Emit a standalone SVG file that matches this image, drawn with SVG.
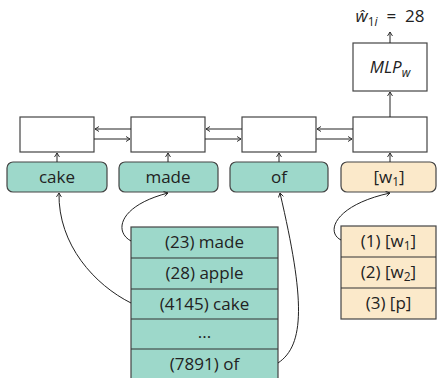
<svg xmlns="http://www.w3.org/2000/svg" width="437" height="378" viewBox="0 0 437 378">
<defs>
<marker id="ah" markerWidth="6" markerHeight="6" refX="5" refY="3" orient="auto" markerUnits="userSpaceOnUse">
<path d="M1,0.5 L5,3 L1,5.5" fill="none" stroke="#222" stroke-width="0.9"/>
</marker>
<style>
.box{fill:#fff;stroke:#444;stroke-width:1.2}
.tok{fill:#9dd8ca;stroke:#444;stroke-width:1.2}
.spc{fill:#fbe9ca;stroke:#444;stroke-width:1.2}
.row{stroke:#333;stroke-width:1.2}
.t{font-family:"Open Sans","Noto Sans",sans-serif;font-size:17px;fill:#222;text-anchor:middle}
.c{fill:none;stroke:#222;stroke-width:1;marker-end:url(#ah)}
</style>
</defs>
<g id="lstm1"><rect class="box" x="20" y="117" width="74" height="35"/></g>
<g id="lstm2"><rect class="box" x="131" y="117" width="74" height="35"/></g>
<g id="lstm3"><rect class="box" x="242" y="117" width="74" height="35"/></g>
<g id="lstm4"><rect class="box" x="353" y="117" width="74" height="35"/></g>
<g id="mlp"><rect class="box" x="353" y="43" width="74" height="48"/>
<text class="t" x="390" y="73" font-style="italic">MLP<tspan font-size="12" dy="4">w</tspan></text></g>
<g id="output"><text class="t" x="390" y="22"><tspan font-style="italic">ŵ</tspan><tspan font-size="12" dy="4">1<tspan font-style="italic">i</tspan></tspan><tspan dy="-4" xml:space="preserve">  =  28</tspan></text></g>
<g id="tok-cake"><rect class="tok" x="7" y="162" width="100" height="30" rx="6"/><text class="t" x="57" y="183">cake</text></g>
<g id="tok-made"><rect class="tok" x="119" y="162" width="99" height="30" rx="6"/><text class="t" x="168" y="183">made</text></g>
<g id="tok-of"><rect class="tok" x="230" y="162" width="98" height="30" rx="6"/><text class="t" x="279" y="183">of</text></g>
<g id="tok-w1"><rect class="spc" x="341" y="162" width="95" height="30" rx="6"/><text class="t" x="389" y="183">[w<tspan font-size="12" dy="3">1</tspan><tspan dy="-3">]</tspan></text></g>
<g id="vocab">
<rect class="tok" x="131" y="227" width="147" height="160"/>
<line class="row" x1="131" y1="258" x2="278" y2="258"/>
<line class="row" x1="131" y1="289" x2="278" y2="289"/>
<line class="row" x1="131" y1="319" x2="278" y2="319"/>
<line class="row" x1="131" y1="349" x2="278" y2="349"/>
<text class="t" x="204.5" y="248">(23) made</text>
<text class="t" x="204.5" y="279">(28) apple</text>
<text class="t" x="204.5" y="310">(4145) cake</text>
<text class="t" x="204.5" y="338">...</text>
<text class="t" x="204.5" y="370">(7891) of</text>
</g>
<g id="special">
<rect class="spc" x="341" y="226" width="95" height="93"/>
<line class="row" x1="341" y1="257" x2="436" y2="257"/>
<line class="row" x1="341" y1="288" x2="436" y2="288"/>
<text class="t" x="388.5" y="247">(1) [w<tspan font-size="12" dy="3">1</tspan><tspan dy="-3">]</tspan></text>
<text class="t" x="388.5" y="278">(2) [w<tspan font-size="12" dy="3">2</tspan><tspan dy="-3">]</tspan></text>
<text class="t" x="388.5" y="309">(3) [p]</text>
</g>
<g id="connectors">
<path class="c" d="M131,129 H95"/>
<path class="c" d="M94,139 H130"/>
<path class="c" d="M242,129 H206"/>
<path class="c" d="M205,139 H241"/>
<path class="c" d="M353,129 H317"/>
<path class="c" d="M316,139 H352"/>
<path class="c" d="M57,162 V153"/>
<path class="c" d="M168,162 V153"/>
<path class="c" d="M279,162 V153"/>
<path class="c" d="M390,162 V153"/>
<path class="c" d="M390,117 V92"/>
<path class="c" d="M390,43 V32"/>
<path class="c" d="M131,303 C95,285 58,245 59,193"/>
<path class="c" d="M131,241 C114,232 118,206 168,193"/>
<path class="c" d="M278,363 C305,345 305,300 280,193"/>
<path class="c" d="M341,240 C325,232 335,205 390,193"/>
</g>
</svg>
